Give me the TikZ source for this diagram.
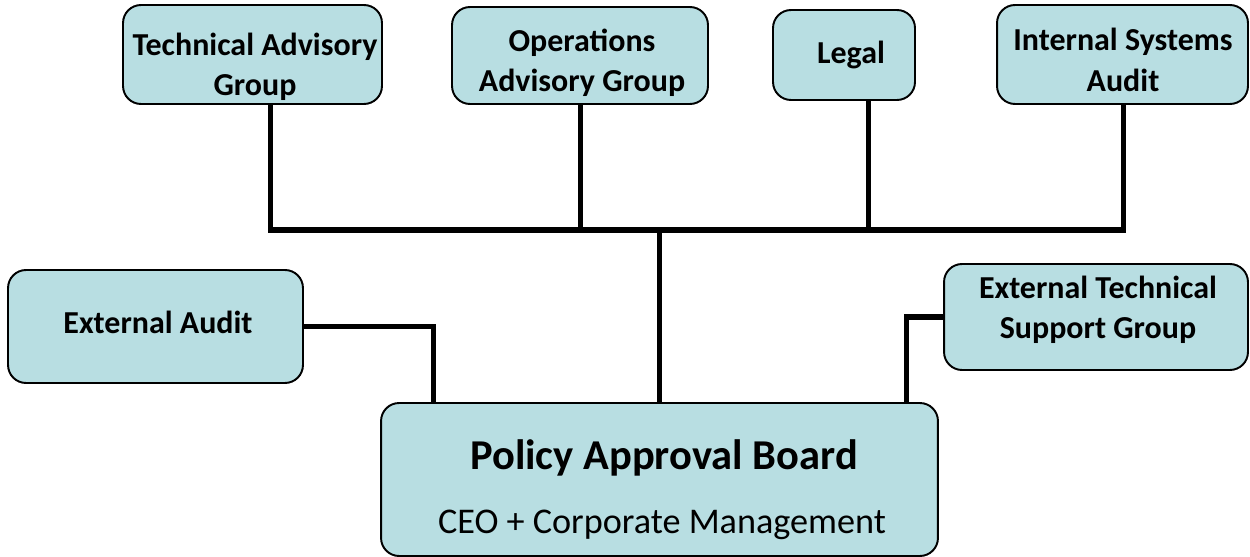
\documentclass[tikz,border=0pt]{standalone}
\usepackage{fontspec}
\setmainfont{Carlito}

\definecolor{boxblue}{HTML}{B8DEE2}

\tikzset{
  unit/.style={draw=black, line width=1.1pt, fill=boxblue, rounded corners=0.36cm},
  unittext/.style={font=\fontsize{18.2}{23}\selectfont\bfseries, align=center},
  link/.style={line width=2.85pt},
}

\begin{document}
\begin{tikzpicture}[x=0.02cm, y=-0.02cm]
    \useasboundingbox (0,0) rectangle (1250,557);

    % advisory units along the top
    \node[unit, minimum width=5.18cm, minimum height=1.98cm] (tag) at (252.5,54.5) {};
    \node[unit, minimum width=5.12cm, minimum height=1.94cm] (oag) at (580,55.5) {};
    \node[unit, minimum width=2.84cm, minimum height=1.80cm] (legal) at (844,55) {};
    \node[unit, minimum width=5.02cm, minimum height=1.98cm] (isa) at (1122.5,54.5) {};

    % side units
    \node[unit, minimum width=5.90cm, minimum height=2.26cm] (ea) at (155.5,326.5) {};
    \node[unit, minimum width=6.08cm, minimum height=2.12cm] (etsg) at (1096,317) {};

    % the board
    \node[unit, minimum width=11.14cm, minimum height=3.06cm] (pab) at (659.5,479.5) {};

    % bus and connectors
    \coordinate (busL) at (270,230);
    \coordinate (busR) at (1123,230);
    \draw[link] (tag.south -| busL) -- (busL) -- (busR) -- (isa.south -| busR);
    \draw[link] (oag.south) -- (oag.south |- busL);
    \draw[link] (legal.south -| 868,0) -- (868,230);
    \draw[link] (busL -| pab.north) -- (pab.north);
    \draw[link] (ea.east) -| (pab.north -| 433,0);
    \draw[link] (etsg.west) -| (pab.north -| 906,0);

    % labels
    \node[unittext] (tagtext) at (255,67) {Technical Advisory\\Group};
    \node[unittext] (oagtext) at (582,63) {Operations\\Advisory Group};
    \node[unittext] (legaltext) at (851,55) {Legal};
    \node[unittext] (isatext) at (1123,60) {Internal Systems\\Audit};
    \node[unittext] (eatext) at (158,322) {External Audit};
    \node[unittext] (etsgtext) at (1098,309.5) {External Technical\\Support Group};
    \node[font=\fontsize{24.2}{28}\selectfont\bfseries] (pabtitle) at (664,458) {Policy Approval Board};
    \node[font=\fontsize{20.6}{24}\selectfont] (pabsub) at (662,525) {CEO + Corporate Management};
\end{tikzpicture}
\end{document}
